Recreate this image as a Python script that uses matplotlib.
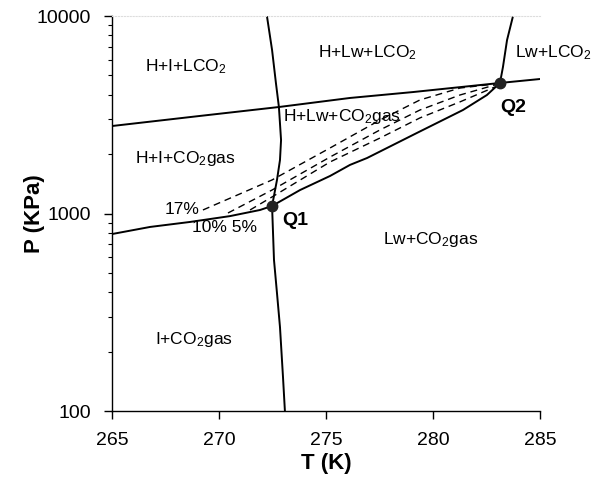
import matplotlib
matplotlib.use("Agg")
import matplotlib.pyplot as plt
from matplotlib.ticker import FixedLocator, FixedFormatter, LogLocator, NullFormatter

plt.rcParams['font.family'] = ['Liberation Sans', 'DejaVu Sans']
plt.rcParams['mathtext.default'] = 'regular'

# ice / water boundary, top of plot down through Q1 to 100 kPa
melt_T = [272.24, 272.48, 272.66, 272.80, 272.90, 272.85, 272.71, 272.48, 272.57, 272.71, 272.85, 272.99, 273.08]
melt_P = [10000, 6730, 4580, 3460, 2355, 1866, 1479, 1092, 582, 395, 266, 149, 100]

# H+I+CO2gas / I+CO2gas boundary, left edge to Q1
hiv_T = [265.0, 266.78, 268.64, 270.51, 271.92, 272.48]
hiv_P = [787, 855, 906, 970, 1042, 1092]

# H+Lw+CO2gas lower boundary, Q1 to Q2
hlv_T = [272.48, 273.79, 275.19, 276.12, 276.92, 279.25, 281.40, 282.52, 283.13]
hlv_P = [1092, 1315, 1549, 1762, 1910, 2558, 3342, 3981, 4581]

# CO2 vapour pressure line, left edge through Q2 to right edge
vap_T = [265.0, 269.11, 272.80, 276.12, 279.07, 283.13, 285.0]
vap_P = [2773, 3119, 3461, 3846, 4121, 4581, 4797]

# Lw+LCO2 boundary above Q2
hll_T = [283.13, 283.27, 283.46, 283.74]
hll_P = [4581, 5521, 7550, 10000]

# dashed lines for 17 %, 10 % and 5 %
d17_T = [269.25, 272.48, 275.19, 277.52, 279.39, 281.26, 282.90]
d17_P = [1042, 1479, 2147, 2972, 3758, 4318, 4529]
d10_T = [270.42, 272.48, 275.19, 277.52, 279.39, 281.26, 282.90]
d10_P = [1006, 1315, 1932, 2649, 3342, 3981, 4477]
d5_T = [271.45, 272.48, 275.19, 277.52, 279.39, 281.26, 282.90]
d5_P = [1042, 1213, 1824, 2410, 3048, 3674, 4375]

# quadruple points
q_T = [272.48, 283.13]
q_P = [1092, 4581]

x_ticks = [265, 270, 275, 280, 285]
y_ticks = [100, 1000, 10000]
y_tick_labels = ['100', '1000', '10000']

fig = plt.figure(figsize=(5.97, 4.80), dpi=100)
ax = fig.add_axes([0.1876, 0.14375, 0.7169, 0.8229])

lw = 1.4
ax.plot(melt_T, melt_P, color='black', lw=lw)
ax.plot(hiv_T, hiv_P, color='black', lw=lw)
ax.plot(hlv_T, hlv_P, color='black', lw=lw)
ax.plot(vap_T, vap_P, color='black', lw=lw)
ax.plot(hll_T, hll_P, color='black', lw=lw)
for dT, dP in [(d17_T, d17_P), (d10_T, d10_P), (d5_T, d5_P)]:
    ax.plot(dT, dP, color='black', lw=1.0, dashes=(5, 3.5))
ax.plot(q_T, q_P, 'o', color='#222222', ms=7.5, zorder=5)

ax.set_yscale('log')
ax.set_xlim(265, 285)
ax.set_ylim(100, 10000)

ax.xaxis.set_major_locator(FixedLocator(x_ticks))
ax.yaxis.set_major_locator(FixedLocator(y_ticks))
ax.yaxis.set_major_formatter(FixedFormatter(y_tick_labels))
ax.yaxis.set_minor_locator(LogLocator(base=10, subs=range(2, 10)))
ax.yaxis.set_minor_formatter(NullFormatter())
ax.tick_params(axis='both', which='major', direction='out', length=6, width=1, labelsize=14, pad=9)
ax.tick_params(axis='y', which='minor', direction='out', length=3, width=0.8)

for side in ['right']:
    ax.spines[side].set_visible(False)
ax.spines['top'].set_color('#dddddd')
ax.spines['top'].set_linestyle(':')
ax.spines['left'].set_linewidth(1.0)
ax.spines['bottom'].set_linewidth(1.0)

ax.set_xlabel('T (K)', fontsize=16, fontweight='bold')
ax.set_ylabel('P (KPa)', fontsize=16, fontweight='bold')
ax.xaxis.set_label_coords(0.5, -0.134)
ax.xaxis.label.set_va('center')
ax.yaxis.set_label_coords(-0.18, 0.5)
ax.yaxis.label.set_va('center')

fs = 12.5
labels = [
    (266.54, 5520, 'H+I+LCO$_2$'),
    (274.63, 6500, 'H+Lw+LCO$_2$'),
    (283.83, 6500, 'Lw+LCO$_2$'),
    (272.99, 3083, 'H+Lw+CO$_2$gas'),
    (266.07, 1910, 'H+I+CO$_2$gas'),
    (277.66, 735, 'Lw+CO$_2$gas'),
    (267.01, 229, 'I+CO$_2$gas'),
    (267.48, 1042, '17%'),
    (268.74, 845, '10% 5%'),
]
for t, p, s in labels:
    ax.text(t, p, s, fontsize=fs, ha='left', va='center')
ax.text(272.94, 927, 'Q1', fontsize=14, fontweight='bold', ha='left', va='center')
ax.text(283.13, 3461, 'Q2', fontsize=14, fontweight='bold', ha='left', va='center')

fig.savefig('out.png', dpi=100)
